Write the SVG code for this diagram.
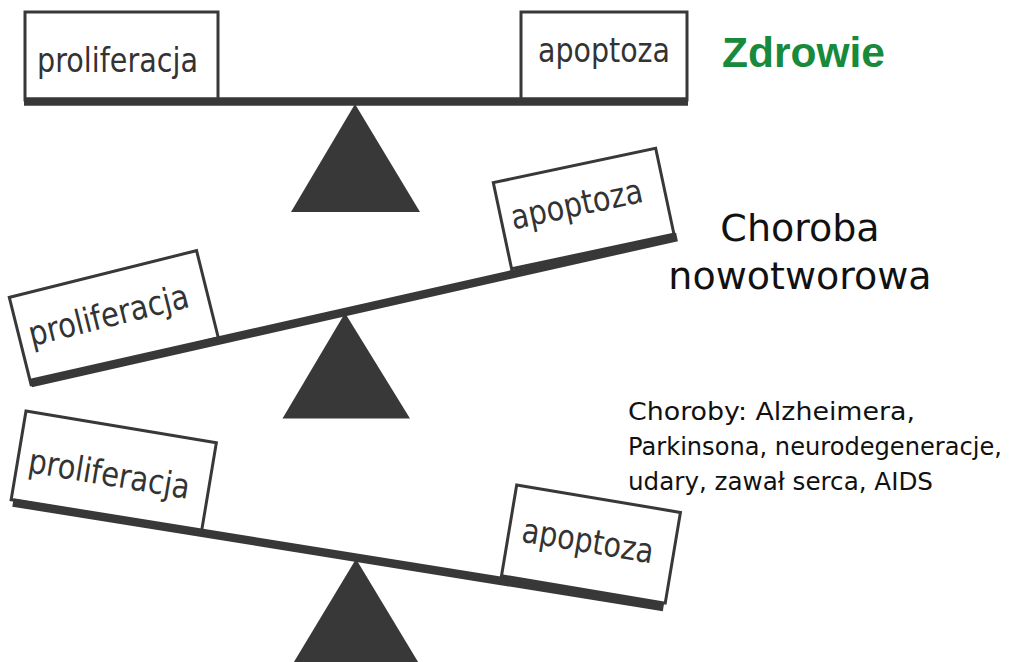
<svg xmlns="http://www.w3.org/2000/svg" width="1011" height="662" viewBox="0 0 1011 662">
<style>
.box{fill:#fff;stroke:#383838;stroke-width:3}
.beam{stroke:#383838;stroke-width:8.5;fill:none}
.tri{fill:#383838}
.bt{font-family:"DejaVu Sans",Verdana,sans-serif;font-size:34px;fill:#333}
.big{font-family:"DejaVu Sans",Verdana,sans-serif;font-size:38px;fill:#111;text-anchor:middle}
.small{font-family:"DejaVu Sans",Verdana,sans-serif;font-size:24px;fill:#111}
.green{font-family:"Liberation Sans",Arial,sans-serif;font-size:42.5px;font-weight:bold;fill:#178a3c}
</style>
<rect width="1011" height="662" fill="#fff"/>
<g id="scale-health">
  <g id="top-prolif"><rect class="box" x="25" y="12" width="193" height="88"/><text class="bt" x="37" y="72" textLength="161" lengthAdjust="spacingAndGlyphs">proliferacja</text></g>
  <g id="top-apop"><rect class="box" x="521" y="12" width="166" height="88"/><text class="bt" x="538" y="62" textLength="132" lengthAdjust="spacingAndGlyphs">apoptoza</text></g>
  <line class="beam" x1="24" y1="101.5" x2="688" y2="101.5" stroke-width="9"/>
  <polygon class="tri" points="355,104 420,212 291,212"/>
</g>
<g id="scale-cancer">
  <g id="mid-prolif" transform="translate(9.3,297.3) rotate(-14)"><rect class="box" x="0" y="0" width="193" height="90"/><text class="bt" x="10" y="53" textLength="164" lengthAdjust="spacingAndGlyphs">proliferacja</text></g>
  <g id="mid-apop" transform="translate(493.3,182.7) rotate(-12)"><rect class="box" x="0" y="0" width="166" height="88"/><text class="bt" x="10" y="50" textLength="134" lengthAdjust="spacingAndGlyphs">apoptoza</text></g>
  <line class="beam" x1="31" y1="383" x2="677" y2="237"/>
  <polygon class="tri" points="345,313 410,418.5 282.5,418.5"/>
</g>
<g id="scale-degeneration">
  <g id="bot-prolif" transform="translate(26,411) rotate(9.5)"><rect class="box" x="0" y="0" width="193" height="90"/><text class="bt" x="11" y="60" textLength="163" lengthAdjust="spacingAndGlyphs">proliferacja</text></g>
  <g id="bot-apop" transform="translate(516.7,485) rotate(9.5)"><rect class="box" x="0" y="0" width="166" height="92"/><text class="bt" x="13" y="55" textLength="133" lengthAdjust="spacingAndGlyphs">apoptoza</text></g>
  <line class="beam" x1="13" y1="502.5" x2="663.5" y2="607"/>
  <polygon class="tri" points="356,559 420.5,666 291.5,666"/>
</g>
<g id="labels">
  <text id="zdrowie" class="green" x="722" y="67">Zdrowie</text>
  <text id="choroba" class="big"><tspan x="800" y="241">Choroba</tspan><tspan x="800" y="289">nowotworowa</tspan></text>
  <text id="choroby" class="small"><tspan x="628" y="420" textLength="287" lengthAdjust="spacingAndGlyphs">Choroby: Alzheimera,</tspan><tspan x="628" y="455" textLength="374" lengthAdjust="spacingAndGlyphs">Parkinsona, neurodegeneracje,</tspan><tspan x="628" y="490" textLength="305" lengthAdjust="spacingAndGlyphs">udary, zawał serca, AIDS</tspan></text>
</g>
<g id="connectors"/>
</svg>
